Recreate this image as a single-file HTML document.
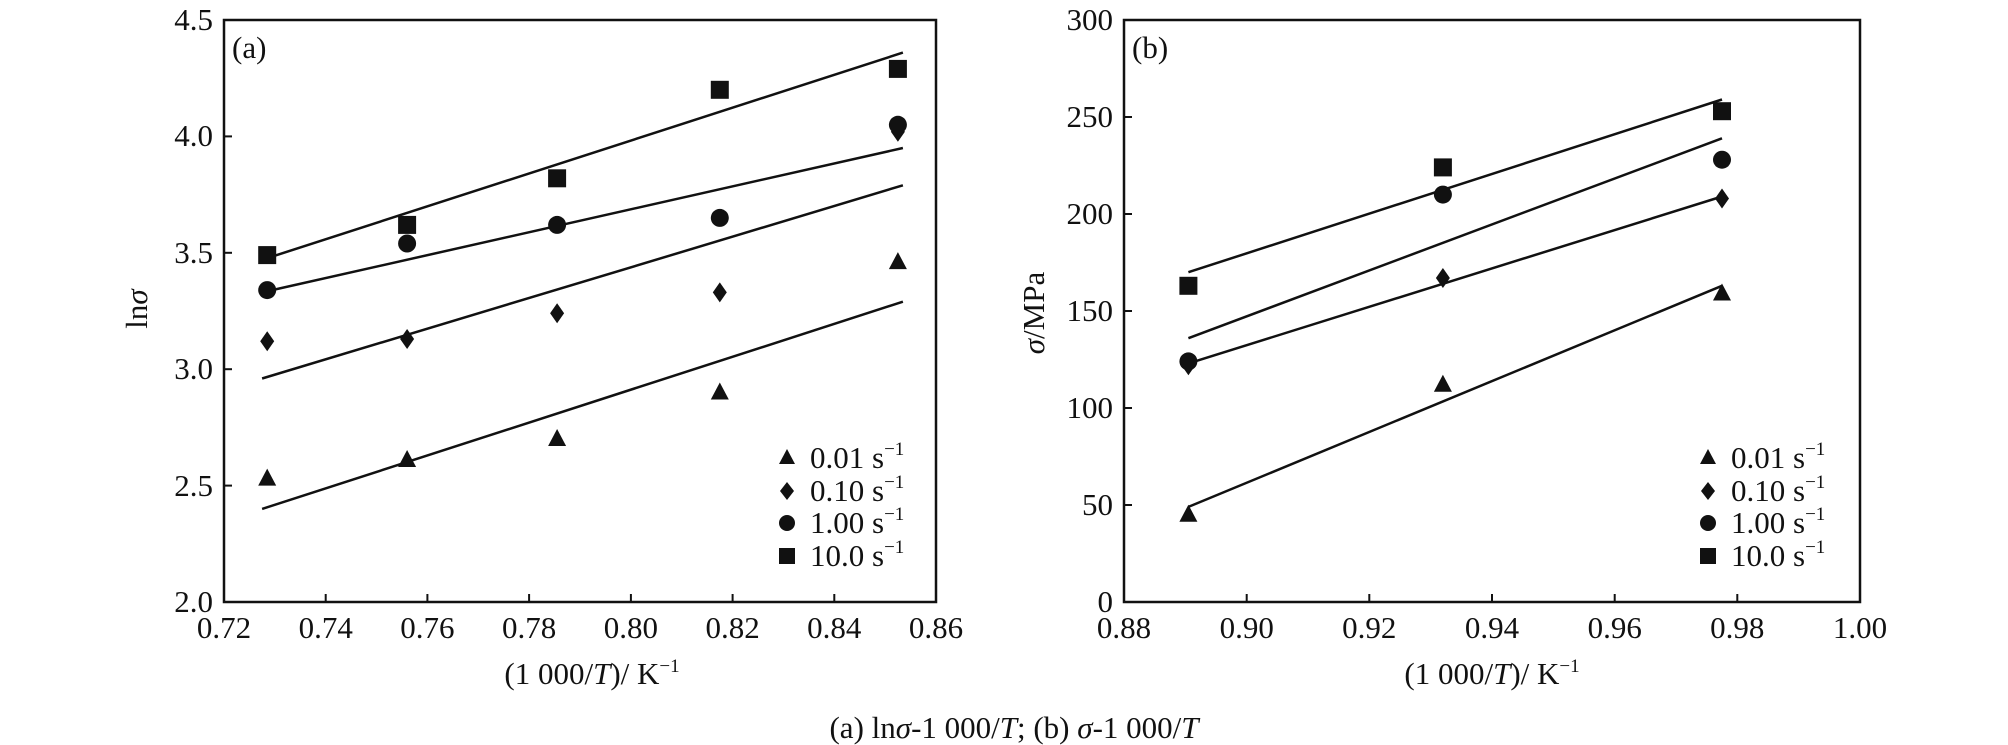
<!DOCTYPE html>
<html><head><meta charset="utf-8"><style>
html,body{margin:0;padding:0;background:#fff;}
svg{display:block;}
text{font-family:"Liberation Serif",serif;fill:#111;}
</style></head><body>
<svg width="2008" height="745" viewBox="0 0 2008 745" xmlns="http://www.w3.org/2000/svg">
<defs>
<path id="tri" d="M0,-10 L9,7 L-9,7 Z" fill="#111"/>
<path id="dia" d="M0,-10 L7,0 L0,10 L-7,0 Z" fill="#111"/>
<circle id="cir" r="9" fill="#111"/>
<rect id="sq" x="-9" y="-9" width="18" height="18" fill="#111"/>
<path id="ltri" d="M0,-9 L8,6 L-8,6 Z" fill="#111"/>
<path id="ldia" d="M0,-9 L7,0 L0,9 L-7,0 Z" fill="#111"/>
<circle id="lcir" r="8" fill="#111"/>
<rect id="lsq" x="-8" y="-8" width="16" height="16" fill="#111"/>
</defs>

<!-- Panel A -->
<rect x="224" y="20" width="712" height="582" fill="none" stroke="#111" stroke-width="2.5"/>
<g stroke="#111" stroke-width="2">
<line x1="325.7" y1="602" x2="325.7" y2="594"/><line x1="427.4" y1="602" x2="427.4" y2="594"/>
<line x1="529.1" y1="602" x2="529.1" y2="594"/><line x1="630.9" y1="602" x2="630.9" y2="594"/>
<line x1="732.6" y1="602" x2="732.6" y2="594"/><line x1="834.3" y1="602" x2="834.3" y2="594"/>
<line x1="224" y1="485.6" x2="232" y2="485.6"/><line x1="224" y1="369.2" x2="232" y2="369.2"/>
<line x1="224" y1="252.8" x2="232" y2="252.8"/><line x1="224" y1="136.4" x2="232" y2="136.4"/>
</g>
<g font-size="31" text-anchor="end">
<text x="213" y="612">2.0</text><text x="213" y="496">2.5</text><text x="213" y="379">3.0</text>
<text x="213" y="263">3.5</text><text x="213" y="146">4.0</text><text x="213" y="30">4.5</text>
</g>
<g font-size="31" text-anchor="middle">
<text x="224" y="638">0.72</text><text x="325.7" y="638">0.74</text><text x="427.4" y="638">0.76</text>
<text x="529.1" y="638">0.78</text><text x="630.9" y="638">0.80</text><text x="732.6" y="638">0.82</text>
<text x="834.3" y="638">0.84</text><text x="936" y="638">0.86</text>
<text x="592" y="684">(1 000/<tspan font-style="italic">T</tspan>)/ K<tspan font-size="19" dy="-12">−1</tspan></text>
</g>
<text x="0" y="0" font-size="31" text-anchor="middle" transform="translate(147,309) rotate(-90)">ln<tspan font-style="italic">σ</tspan></text>
<text x="232" y="58" font-size="31">(a)</text>
<g stroke="#111" stroke-width="2.5">
<line x1="262.1" y1="259.8" x2="902.9" y2="52.6"/>
<line x1="262.1" y1="292.4" x2="902.9" y2="148.0"/>
<line x1="262.1" y1="378.5" x2="902.9" y2="185.3"/>
<line x1="262.1" y1="508.9" x2="902.9" y2="301.7"/>
</g>
<use href="#sq" x="267.2" y="255.1"/><use href="#sq" x="407.1" y="224.9"/><use href="#sq" x="557.1" y="178.3"/><use href="#sq" x="719.8" y="89.8"/><use href="#sq" x="897.9" y="68.9"/>
<use href="#cir" x="267.2" y="290.1"/><use href="#cir" x="407.1" y="243.5"/><use href="#cir" x="557.1" y="224.9"/><use href="#cir" x="719.8" y="217.9"/><use href="#cir" x="897.9" y="124.8"/>
<use href="#dia" x="267.2" y="341.3"/><use href="#dia" x="407.1" y="339.0"/><use href="#dia" x="557.1" y="313.3"/><use href="#dia" x="719.8" y="292.4"/><use href="#dia" x="897.9" y="131.7"/>
<use href="#tri" x="267.2" y="478.6"/><use href="#tri" x="407.1" y="460.0"/><use href="#tri" x="557.1" y="439.0"/><use href="#tri" x="719.8" y="392.5"/><use href="#tri" x="897.9" y="262.1"/>
<use href="#ltri" x="787" y="458"/><use href="#ldia" x="787" y="491"/><use href="#lcir" x="787" y="523"/><use href="#lsq" x="787" y="556"/>
<g font-size="31">
<text x="810" y="468">0.01 s<tspan font-size="19" dy="-13">−1</tspan></text>
<text x="810" y="501">0.10 s<tspan font-size="19" dy="-13">−1</tspan></text>
<text x="810" y="533">1.00 s<tspan font-size="19" dy="-13">−1</tspan></text>
<text x="810" y="566">10.0 s<tspan font-size="19" dy="-13">−1</tspan></text>
</g>

<!-- Panel B -->
<rect x="1124" y="20" width="736" height="582" fill="none" stroke="#111" stroke-width="2.5"/>
<g stroke="#111" stroke-width="2">
<line x1="1246.7" y1="602" x2="1246.7" y2="594"/><line x1="1369.3" y1="602" x2="1369.3" y2="594"/>
<line x1="1492" y1="602" x2="1492" y2="594"/><line x1="1614.7" y1="602" x2="1614.7" y2="594"/>
<line x1="1737.3" y1="602" x2="1737.3" y2="594"/>
<line x1="1124" y1="505" x2="1132" y2="505"/><line x1="1124" y1="408" x2="1132" y2="408"/>
<line x1="1124" y1="311" x2="1132" y2="311"/><line x1="1124" y1="214" x2="1132" y2="214"/>
<line x1="1124" y1="117" x2="1132" y2="117"/>
</g>
<g font-size="31" text-anchor="end">
<text x="1113" y="612">0</text><text x="1113" y="515">50</text><text x="1113" y="418">100</text>
<text x="1113" y="321">150</text><text x="1113" y="224">200</text><text x="1113" y="127">250</text><text x="1113" y="30">300</text>
</g>
<g font-size="31" text-anchor="middle">
<text x="1124" y="638">0.88</text><text x="1246.7" y="638">0.90</text><text x="1369.3" y="638">0.92</text>
<text x="1492" y="638">0.94</text><text x="1614.7" y="638">0.96</text><text x="1737.3" y="638">0.98</text>
<text x="1860" y="638">1.00</text>
<text x="1492" y="684">(1 000/<tspan font-style="italic">T</tspan>)/ K<tspan font-size="19" dy="-12">−1</tspan></text>
</g>
<text x="0" y="0" font-size="31" text-anchor="middle" transform="translate(1044,313) rotate(-90)"><tspan font-style="italic">σ</tspan>/MPa</text>
<text x="1132" y="58" font-size="31">(b)</text>
<g stroke="#111" stroke-width="2.5">
<line x1="1188.4" y1="272.2" x2="1722" y2="99.5"/>
<line x1="1188.4" y1="338.2" x2="1722" y2="138.3"/>
<line x1="1188.4" y1="363.4" x2="1722" y2="196.5"/>
<line x1="1188.4" y1="506.9" x2="1722" y2="285.8"/>
</g>
<use href="#sq" x="1188.4" y="285.8"/><use href="#sq" x="1442.9" y="167.4"/><use href="#sq" x="1722" y="111.2"/>
<use href="#dia" x="1188.4" y="365.3"/><use href="#dia" x="1442.9" y="278.0"/><use href="#dia" x="1722" y="198.5"/>
<use href="#cir" x="1188.4" y="361.4"/><use href="#cir" x="1442.9" y="194.6"/><use href="#cir" x="1722" y="159.7"/>
<use href="#tri" x="1188.4" y="514.7"/><use href="#tri" x="1442.9" y="384.7"/><use href="#tri" x="1722" y="293.5"/>
<use href="#ltri" x="1708" y="458"/><use href="#ldia" x="1708" y="491"/><use href="#lcir" x="1708" y="523"/><use href="#lsq" x="1708" y="556"/>
<g font-size="31">
<text x="1731" y="468">0.01 s<tspan font-size="19" dy="-13">−1</tspan></text>
<text x="1731" y="501">0.10 s<tspan font-size="19" dy="-13">−1</tspan></text>
<text x="1731" y="533">1.00 s<tspan font-size="19" dy="-13">−1</tspan></text>
<text x="1731" y="566">10.0 s<tspan font-size="19" dy="-13">−1</tspan></text>
</g>

<text x="1014" y="738" font-size="31" text-anchor="middle">(a) ln<tspan font-style="italic">σ</tspan>-1 000/<tspan font-style="italic">T</tspan>; (b) <tspan font-style="italic">σ</tspan>-1 000/<tspan font-style="italic">T</tspan></text>
</svg>
</body></html>
